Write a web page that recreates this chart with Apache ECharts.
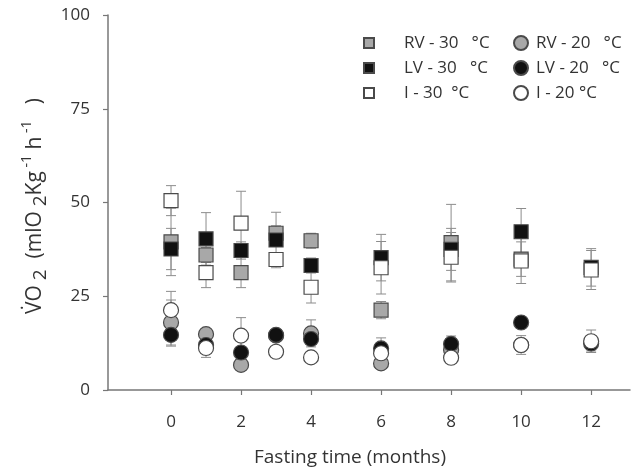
<!DOCTYPE html>
<html>
<head>
<meta charset="utf-8">
<script src="https://cdn.jsdelivr.net/npm/echarts@6/dist/echarts.min.js"></script>
<style>html,body{margin:0;padding:0;background:#fff}#c{width:631px;height:470px}</style>
</head>
<body>
<div id="c"></div>
<script>
var months = [0, 1, 2, 3, 4, 6, 8, 10, 12];
var xTicks = [0, 2, 4, 6, 8, 10, 12];
var yTicks = [0, 25, 50, 75, 100];

var RV30 = [39.5, 36.0, 31.3, 41.8, 39.8, 21.3, 39.3, 34.9, null];
var RV30err = [9.0, 2.0, 4.0, 2.0, 2.0, 2.3, 10.2, 4.6, null];
var LV30 = [37.6, 40.3, 37.2, 40.0, 33.2, 35.3, 37.5, 42.2, 32.7];
var LV30err = [5.5, 7.0, 2.3, 7.4, 2.0, 6.2, 5.6, 6.2, 5.0];
var I30 = [50.5, 31.3, 44.5, 34.8, 27.4, 32.6, 35.4, 34.4, 32.0];
var I30err = [4.0, 4.0, 8.5, 1.0, 4.2, 7.0, 6.6, 6.0, 5.2];

var RV20 = [18.0, 14.9, 6.7, 14.5, 15.1, 7.1, 10.7, 12.0, null];
var RV20err = [6.0, 1.0, 1.0, 1.0, 3.6, 1.0, 1.0, 1.0, null];
var LV20 = [14.7, 12.0, 10.0, 14.7, 13.6, 11.1, 12.3, 18.0, 12.4];
var LV20err = [3.0, 1.0, 1.0, 1.5, 1.0, 2.8, 2.1, 1.5, 2.0];
var I20 = [21.3, 11.2, 14.5, 10.2, 8.7, 9.8, 8.6, 12.0, 13.0];
var I20err = [5.0, 2.5, 4.8, 1.0, 1.0, 1.0, 1.0, 2.5, 3.0];

var names = ['RV - 30   °C', 'LV - 30   °C', 'I - 30  °C', 'RV - 20   °C', 'LV - 20   °C', 'I - 20 °C'];

var FONT = '"Open Sans", "Noto Sans", sans-serif';
var GRAY = '#a8a8a8', BLACK = '#111111', WHITE = '#ffffff', EDGE = '#4a4a4a';

function pts(vals) {
  var out = [];
  for (var i = 0; i < months.length; i++) if (vals[i] != null) out.push([months[i], vals[i]]);
  return out;
}
function errs(vals, e) {
  var out = [];
  for (var i = 0; i < months.length; i++) if (vals[i] != null && e[i] != null) out.push([months[i], vals[i] - e[i], vals[i] + e[i]]);
  return out;
}
function errSeries(vals, e) {
  return {
    type: 'custom', z: 1, silent: true,
    data: errs(vals, e),
    encode: { x: 0, y: [1, 2] },
    renderItem: function (params, api) {
      var x = api.value(0);
      var lo = api.coord([x, api.value(1)]);
      var hi = api.coord([x, api.value(2)]);
      var w = 5;
      var st = { stroke: '#8c8c8c', lineWidth: 1 };
      return { type: 'group', children: [
        { type: 'line', shape: { x1: lo[0], y1: lo[1], x2: hi[0], y2: hi[1] }, style: st },
        { type: 'line', shape: { x1: hi[0] - w, y1: hi[1], x2: hi[0] + w, y2: hi[1] }, style: st },
        { type: 'line', shape: { x1: lo[0] - w, y1: lo[1], x2: lo[0] + w, y2: lo[1] }, style: st }
      ]};
    }
  };
}
function sc(name, vals, sym, color, size, z) {
  return {
    name: name, type: 'scatter', symbol: sym, symbolSize: size, z: z,
    data: pts(vals),
    itemStyle: { color: color, borderColor: EDGE, borderWidth: 1.2, opacity: 1 }
  };
}

var chart = echarts.init(document.getElementById('c'), null, { renderer: 'canvas' });
chart.setOption({
  animation: false,
  backgroundColor: '#fff',
  textStyle: { fontFamily: FONT },
  grid: { left: 108, right: 1, top: 15, bottom: 80, containLabel: false },
  xAxis: {
    type: 'value', min: -1.8, max: 13.11,
    splitLine: { show: false },
    axisLine: { onZero: false, lineStyle: { color: '#777', width: 1.5 } },
    axisTick: { show: true, customValues: xTicks, length: 5, inside: false, lineStyle: { color: '#777', width: 1.2 } },
    axisLabel: { customValues: xTicks, fontSize: 17, color: '#333', margin: 24, fontFamily: FONT }
  },
  yAxis: {
    type: 'value', min: 0, max: 100, interval: 25,
    splitLine: { show: false },
    axisLine: { show: true, onZero: false, lineStyle: { color: '#777', width: 1.5 } },
    axisTick: { show: true, length: 5, lineStyle: { color: '#777', width: 1.2 } },
    axisLabel: { fontSize: 17, color: '#333', margin: 18, fontFamily: FONT,
      customValues: yTicks }
  },
  legend: [
    { data: names.slice(0, 3), orient: 'vertical', left: 358, top: 29, itemGap: 7,
      itemWidth: 10, itemHeight: 10, selectedMode: false,
      textStyle: { fontSize: 17, color: '#333', fontFamily: FONT, lineHeight: 18, padding: [0, 0, 0, 25] } },
    { data: names.slice(3, 6), orient: 'vertical', left: 508, top: 29, itemGap: 7,
      itemWidth: 14, itemHeight: 14, selectedMode: false,
      textStyle: { fontSize: 17, color: '#333', fontFamily: FONT, lineHeight: 18, padding: [0, 0, 0, 3] } }
  ],
  graphic: [
    { type: 'text', x: 35, y: 206, rotation: Math.PI / 2,
      style: {
        text: '{b|V\u0307O}{sub| 2}{b|  (mlO}{sub| 2}{b|Kg}{sup| -1}{b| h}{sup| -1}{b|   )}',
        align: 'center', verticalAlign: 'middle', fill: '#333',
        rich: {
          b: { fontSize: 21, fontFamily: FONT, fill: '#333', lineHeight: 30, verticalAlign: 'middle' },
          sub: { fontSize: 19, fontFamily: FONT, fill: '#333', lineHeight: 18, verticalAlign: 'bottom' },
          sup: { fontSize: 14, fontFamily: FONT, fill: '#333', lineHeight: 14, verticalAlign: 'top' }
        }
      } },
    { type: 'text', x: 350, y: 458,
      style: { text: 'Fasting time (months)', align: 'center', verticalAlign: 'middle',
        fontSize: 19, fontFamily: FONT, fill: '#333' } }
  ],
  series: [
    errSeries(RV30, RV30err), errSeries(LV30, LV30err), errSeries(I30, I30err),
    errSeries(RV20, RV20err), errSeries(LV20, LV20err), errSeries(I20, I20err),
    sc(names[0], RV30, 'rect', GRAY, 14, 2),
    sc(names[3], RV20, 'circle', GRAY, 15, 2),
    sc(names[1], LV30, 'rect', BLACK, 14, 3),
    sc(names[4], LV20, 'circle', BLACK, 15, 3),
    sc(names[2], I30, 'rect', WHITE, 14, 4),
    sc(names[5], I20, 'circle', WHITE, 15, 4)
  ]
});
</script>
</body>
</html>
